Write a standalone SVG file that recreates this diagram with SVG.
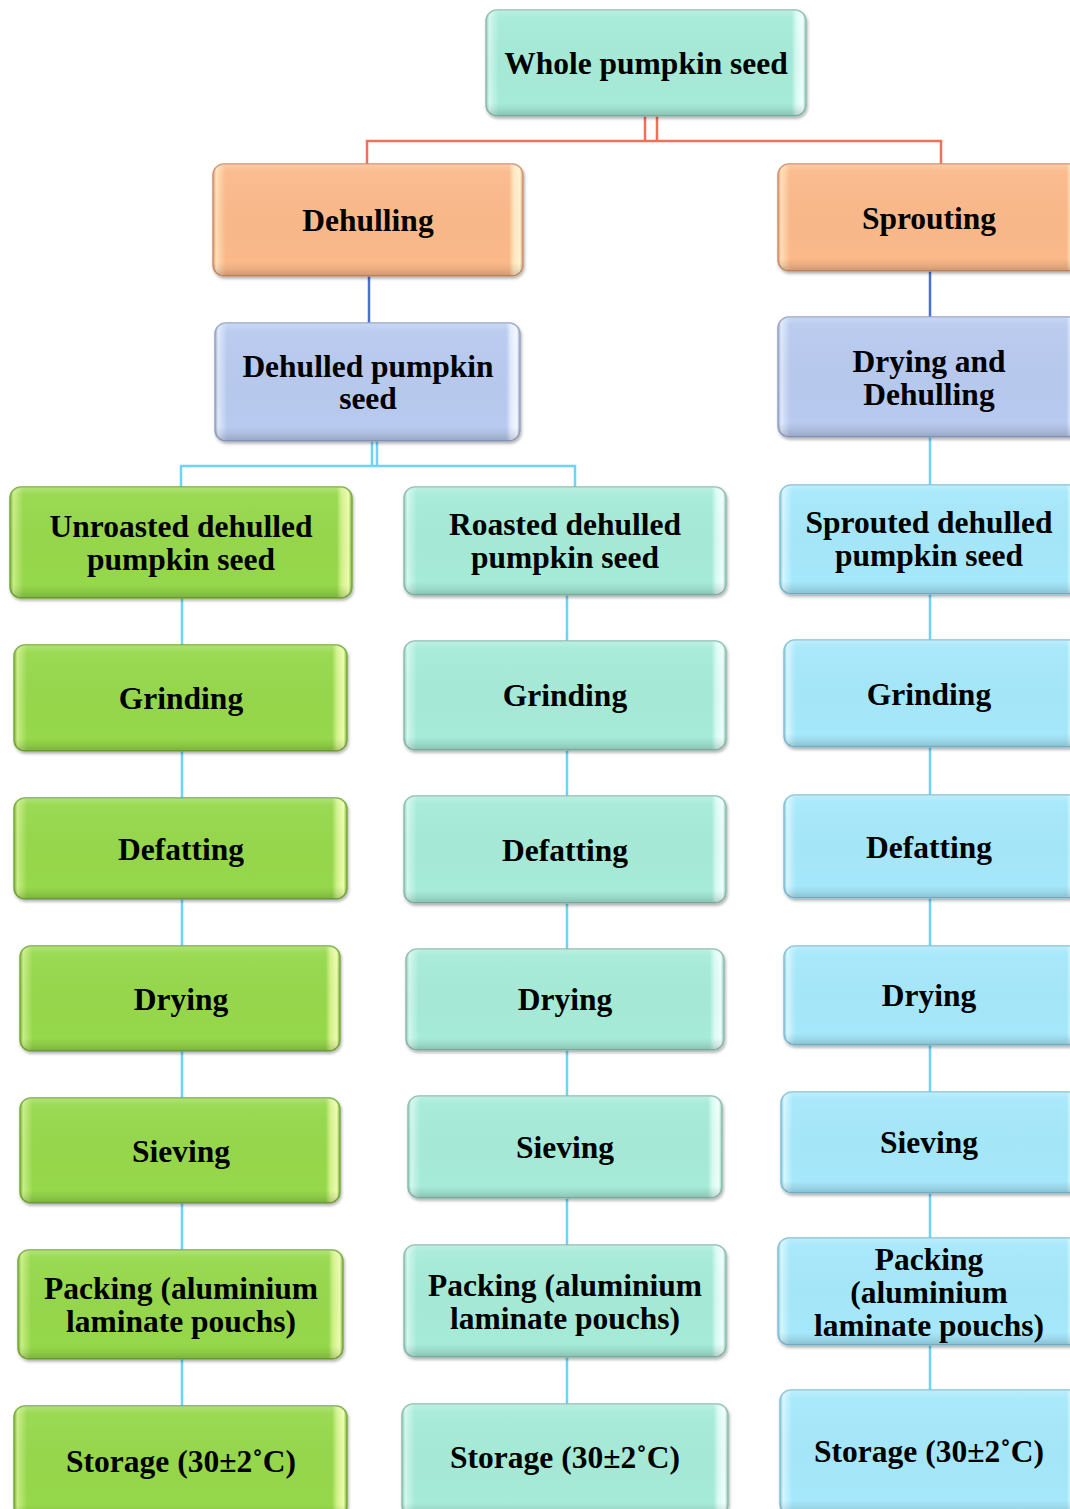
<svg xmlns="http://www.w3.org/2000/svg" width="1070" height="1509" viewBox="0 0 1070 1509">
<defs>
<linearGradient id="gA" x1="0" y1="0" x2="1" y2="0">
<stop offset="0" stop-color="#8cccb9"/><stop offset="0.01" stop-color="#d2f8ee"/><stop offset="0.04" stop-color="#a6ebd8"/><stop offset="0.955" stop-color="#a6ebd8"/><stop offset="0.97" stop-color="#d8fbf3"/><stop offset="0.99" stop-color="#f0fffc"/><stop offset="1" stop-color="#8cccb9"/>
</linearGradient>
<linearGradient id="gO" x1="0" y1="0" x2="1" y2="0">
<stop offset="0" stop-color="#dc9a6c"/><stop offset="0.01" stop-color="#ffe0b8"/><stop offset="0.04" stop-color="#fbb98a"/><stop offset="0.955" stop-color="#fbb98a"/><stop offset="0.97" stop-color="#ffe6bc"/><stop offset="0.99" stop-color="#fff4d4"/><stop offset="1" stop-color="#dc9a6c"/>
</linearGradient>
<linearGradient id="gL" x1="0" y1="0" x2="1" y2="0">
<stop offset="0" stop-color="#97a7c9"/><stop offset="0.01" stop-color="#dfe8fc"/><stop offset="0.04" stop-color="#b8caef"/><stop offset="0.955" stop-color="#b8caef"/><stop offset="0.97" stop-color="#e2ebff"/><stop offset="0.99" stop-color="#f4f8ff"/><stop offset="1" stop-color="#97a7c9"/>
</linearGradient>
<linearGradient id="gG" x1="0" y1="0" x2="1" y2="0">
<stop offset="0" stop-color="#76b033"/><stop offset="0.01" stop-color="#c8ee86"/><stop offset="0.04" stop-color="#96d84b"/><stop offset="0.955" stop-color="#96d84b"/><stop offset="0.97" stop-color="#d2f28a"/><stop offset="0.99" stop-color="#ecfcae"/><stop offset="1" stop-color="#76b033"/>
</linearGradient>
<linearGradient id="gB" x1="0" y1="0" x2="1" y2="0">
<stop offset="0" stop-color="#82c4dc"/><stop offset="0.01" stop-color="#d6f7ff"/><stop offset="0.04" stop-color="#a6e8fb"/><stop offset="0.955" stop-color="#a6e8fb"/><stop offset="0.97" stop-color="#d6f7ff"/><stop offset="0.99" stop-color="#f0fdff"/><stop offset="1" stop-color="#82c4dc"/>
</linearGradient>
<linearGradient id="shade" x1="0" y1="0" x2="0" y2="1">
<stop offset="0" stop-color="#ffffff" stop-opacity="0.25"/><stop offset="0.07" stop-color="#ffffff" stop-opacity="0.05"/><stop offset="0.88" stop-color="#000000" stop-opacity="0"/><stop offset="0.94" stop-color="#000000" stop-opacity="0.07"/><stop offset="1" stop-color="#000000" stop-opacity="0.18"/>
</linearGradient>
<filter id="sh" x="-5%" y="-5%" width="110%" height="115%">
<feDropShadow dx="1" dy="2" stdDeviation="1.5" flood-color="#000" flood-opacity="0.3"/>
</filter>
</defs>
<style>
.box{stroke-width:1.5;filter:url(#sh)}
.ov{fill:url(#shade);stroke:none}
.A{fill:url(#gA);stroke:#8fbfb0}
.O{fill:url(#gO);stroke:#d09370}
.L{fill:url(#gL);stroke:#96a5c6}
.G{fill:url(#gG);stroke:#78ad3a}
.B{fill:url(#gB);stroke:#86c2d8}
text{font-family:"Liberation Serif","Times New Roman",serif;font-weight:bold;font-size:31.5px;fill:#000;text-anchor:middle}
.c{fill:none;stroke-width:2.5}
.red{stroke:#f2705a}
.blu{stroke:#4a6fd8}
.lb{stroke:#6dd3f7}
</style>
<g id="connectors">
<path class="c red" d="M645 116V141M657 116V141M367 164V141H941V164"/>
<path class="c blu" d="M369 276V323M930 271V317"/>
<path class="c lb" d="M372 441V466M377 441V466M181 487V466H575V487"/>
<path class="c lb" d="M930 437V485"/>
<path class="c lb" d="M182 598V1406"/>
<path class="c lb" d="M567 595V1404"/>
<path class="c lb" d="M930 594V1390"/>
</g>
<g id="whole"><rect class="box A" x="486" y="10" width="320" height="106" rx="11"/><rect class="ov" x="486" y="10" width="320" height="106" rx="11"/><text x="646" y="74">Whole pumpkin seed</text></g>
<g id="dehulling"><rect class="box O" x="213" y="164" width="310" height="112" rx="11"/><rect class="ov" x="213" y="164" width="310" height="112" rx="11"/><text x="368" y="231">Dehulling</text></g>
<g id="sprouting"><rect class="box O" x="778" y="164" width="302" height="107" rx="11"/><rect class="ov" x="778" y="164" width="302" height="107" rx="11"/><text x="929" y="229">Sprouting</text></g>
<g id="dehulled"><rect class="box L" x="215" y="323" width="305" height="118" rx="11"/><rect class="ov" x="215" y="323" width="305" height="118" rx="11"/><text x="368" y="377">Dehulled pumpkin</text><text x="368" y="409">seed</text></g>
<g id="drydehull"><rect class="box L" x="778" y="317" width="302" height="120" rx="11"/><rect class="ov" x="778" y="317" width="302" height="120" rx="11"/><text x="929" y="372">Drying and</text><text x="929" y="405">Dehulling</text></g>
<g id="unroasted"><rect class="box G" x="10" y="487" width="342" height="111" rx="11"/><rect class="ov" x="10" y="487" width="342" height="111" rx="11"/><text x="181" y="537">Unroasted dehulled</text><text x="181" y="570">pumpkin seed</text></g>
<g id="grind1"><rect class="box G" x="14" y="645" width="333" height="106" rx="11"/><rect class="ov" x="14" y="645" width="333" height="106" rx="11"/><text x="181" y="709">Grinding</text></g>
<g id="defat1"><rect class="box G" x="14" y="798" width="333" height="101" rx="11"/><rect class="ov" x="14" y="798" width="333" height="101" rx="11"/><text x="181" y="860">Defatting</text></g>
<g id="dry1"><rect class="box G" x="20" y="946" width="320" height="105" rx="11"/><rect class="ov" x="20" y="946" width="320" height="105" rx="11"/><text x="181" y="1010">Drying</text></g>
<g id="sieve1"><rect class="box G" x="20" y="1098" width="320" height="105" rx="11"/><rect class="ov" x="20" y="1098" width="320" height="105" rx="11"/><text x="181" y="1162">Sieving</text></g>
<g id="pack1"><rect class="box G" x="18" y="1250" width="325" height="109" rx="11"/><rect class="ov" x="18" y="1250" width="325" height="109" rx="11"/><text x="181" y="1299">Packing (aluminium</text><text x="181" y="1332">laminate pouchs)</text></g>
<g id="store1"><rect class="box G" x="14" y="1406" width="333" height="112" rx="11"/><rect class="ov" x="14" y="1406" width="333" height="112" rx="11"/><text x="181" y="1472">Storage (30±2˚C)</text></g>
<g id="roasted"><rect class="box A" x="404" y="487" width="322" height="108" rx="11"/><rect class="ov" x="404" y="487" width="322" height="108" rx="11"/><text x="565" y="535">Roasted dehulled</text><text x="565" y="568">pumpkin seed</text></g>
<g id="grind2"><rect class="box A" x="404" y="641" width="322" height="109" rx="11"/><rect class="ov" x="404" y="641" width="322" height="109" rx="11"/><text x="565" y="706">Grinding</text></g>
<g id="defat2"><rect class="box A" x="404" y="796" width="322" height="107" rx="11"/><rect class="ov" x="404" y="796" width="322" height="107" rx="11"/><text x="565" y="861">Defatting</text></g>
<g id="dry2"><rect class="box A" x="406" y="949" width="318" height="101" rx="11"/><rect class="ov" x="406" y="949" width="318" height="101" rx="11"/><text x="565" y="1010">Drying</text></g>
<g id="sieve2"><rect class="box A" x="408" y="1096" width="314" height="102" rx="11"/><rect class="ov" x="408" y="1096" width="314" height="102" rx="11"/><text x="565" y="1158">Sieving</text></g>
<g id="pack2"><rect class="box A" x="404" y="1245" width="322" height="112" rx="11"/><rect class="ov" x="404" y="1245" width="322" height="112" rx="11"/><text x="565" y="1296">Packing (aluminium</text><text x="565" y="1329">laminate pouchs)</text></g>
<g id="store2"><rect class="box A" x="402" y="1404" width="326" height="112" rx="11"/><rect class="ov" x="402" y="1404" width="326" height="112" rx="11"/><text x="565" y="1468">Storage (30±2˚C)</text></g>
<g id="sprouted"><rect class="box B" x="780" y="485" width="300" height="109" rx="11"/><rect class="ov" x="780" y="485" width="300" height="109" rx="11"/><text x="929" y="533">Sprouted dehulled</text><text x="929" y="566">pumpkin seed</text></g>
<g id="grind3"><rect class="box B" x="784" y="640" width="296" height="107" rx="11"/><rect class="ov" x="784" y="640" width="296" height="107" rx="11"/><text x="929" y="705">Grinding</text></g>
<g id="defat3"><rect class="box B" x="784" y="795" width="296" height="103" rx="11"/><rect class="ov" x="784" y="795" width="296" height="103" rx="11"/><text x="929" y="858">Defatting</text></g>
<g id="dry3"><rect class="box B" x="784" y="946" width="296" height="99" rx="11"/><rect class="ov" x="784" y="946" width="296" height="99" rx="11"/><text x="929" y="1006">Drying</text></g>
<g id="sieve3"><rect class="box B" x="781" y="1092" width="299" height="101" rx="11"/><rect class="ov" x="781" y="1092" width="299" height="101" rx="11"/><text x="929" y="1153">Sieving</text></g>
<g id="pack3"><rect class="box B" x="778" y="1238" width="302" height="107" rx="11"/><rect class="ov" x="778" y="1238" width="302" height="107" rx="11"/><text x="929" y="1270">Packing</text><text x="929" y="1303">(aluminium</text><text x="929" y="1336">laminate pouchs)</text></g>
<g id="store3"><rect class="box B" x="780" y="1390" width="300" height="125" rx="11"/><rect class="ov" x="780" y="1390" width="300" height="125" rx="11"/><text x="929" y="1462">Storage (30±2˚C)</text></g>
</svg>
